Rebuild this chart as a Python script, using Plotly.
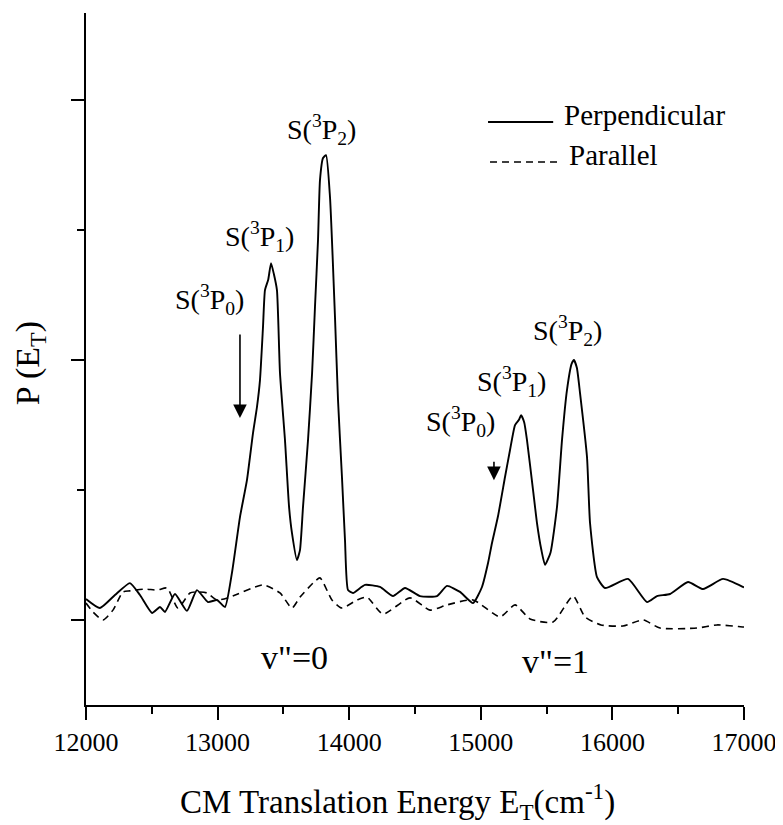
import plotly.graph_objects as go

# ---- data ----
perp_x = [12000, 12106, 12220, 12334, 12410, 12502, 12562, 12600, 12676, 12767,
          12843, 12927, 12995, 13056, 13109, 13170, 13223, 13269, 13299, 13322,
          13345, 13360, 13385, 13406, 13428, 13451, 13474, 13512, 13543, 13565,
          13603, 13626, 13649, 13687, 13718, 13740, 13763, 13778, 13801, 13824,
          13854, 13892, 13915, 13945, 13968, 13991, 14029, 14120, 14234, 14333,
          14424, 14538, 14667, 14743, 14842, 14941, 15009, 15055, 15085, 15131,
          15184, 15222, 15260, 15290, 15306, 15330, 15351, 15397, 15427, 15460,
          15488, 15530, 15579, 15617, 15655, 15690, 15708, 15730, 15754, 15807,
          15830, 15883, 15944, 16119, 16263, 16339, 16438, 16575, 16689, 16841,
          16993, 17000]
perp_y = [0.081, 0.046, 0.096, 0.142, 0.096, 0.027, 0.050, 0.031, 0.100, 0.035,
          0.115, 0.069, 0.077, 0.050, 0.181, 0.396, 0.538, 0.719, 0.819, 0.923,
          1.127, 1.269, 1.310, 1.373, 1.330, 1.269, 0.950, 0.692, 0.435, 0.335,
          0.231, 0.269, 0.435, 0.692, 0.950, 1.204, 1.462, 1.692, 1.777, 1.788,
          1.627, 1.165, 0.846, 0.550, 0.308, 0.115, 0.104, 0.135, 0.127, 0.092,
          0.123, 0.092, 0.092, 0.131, 0.108, 0.065, 0.127, 0.219, 0.296, 0.400,
          0.550, 0.654, 0.750, 0.770, 0.788, 0.760, 0.692, 0.500, 0.373, 0.270,
          0.212, 0.260, 0.435, 0.692, 0.885, 0.985, 1.000, 0.970, 0.873, 0.627,
          0.373, 0.165, 0.123, 0.158, 0.069, 0.092, 0.100, 0.146, 0.119, 0.158,
          0.127, 0.125]

par_x = [12000, 12053, 12129, 12205, 12281, 12334, 12448, 12540, 12616, 12699,
         12790, 12843, 12919, 12995, 13094, 13345, 13474, 13565, 13626, 13725,
         13778, 13869, 13945, 14059, 14135, 14257, 14462, 14614, 14743, 14941,
         15146, 15260, 15374, 15549, 15701, 15792, 15913, 16080, 16233, 16362,
         16643, 16795, 16993, 17000]
par_y = [0.065, 0.031, 0.000, 0.038, 0.108, 0.112, 0.119, 0.115, 0.123, 0.046,
         0.104, 0.108, 0.104, 0.077, 0.088, 0.135, 0.104, 0.046, 0.088, 0.142,
         0.162, 0.077, 0.046, 0.077, 0.088, 0.023, 0.085, 0.038, 0.058, 0.077,
         0.012, 0.058, 0.004, -0.008, 0.092, 0.012, -0.019, -0.023, 0.000, -0.031,
         -0.031, -0.019, -0.027, -0.027]

x_ticks = [12000, 13000, 14000, 15000, 16000, 17000]

# peak labels: (x, y, text)
label_x = [12942, 13322, 13793, 14842, 15230, 15655]
label_y = [1.231, 1.477, 1.885, 0.762, 0.919, 1.112]
label_t = ["S(<sup>3</sup>P<sub>0</sub>)", "S(<sup>3</sup>P<sub>1</sub>)",
           "S(<sup>3</sup>P<sub>2</sub>)", "S(<sup>3</sup>P<sub>0</sub>)",
           "S(<sup>3</sup>P<sub>1</sub>)", "S(<sup>3</sup>P<sub>2</sub>)"]

# arrows: head position (x, y) and length in px
arrow_x = [13170, 15100]
arrow_y = [0.777, 0.538]
arrow_len = [85, 20]

band_x = [13588, 15564]
band_y = [-0.146, -0.158]
band_t = ['v"=0', 'v"=1']

FONT = "Liberation Serif"

# the page body has an 8px margin: shrink the figure so the plot lands in place
OFF = 8
W, H = 783 - OFF, 825 - OFF

fig = go.Figure()
fig.add_trace(go.Scatter(x=perp_x, y=perp_y, mode="lines",
                         line=dict(color="black", width=1.9, shape="spline",
                                   smoothing=0.5),
                         showlegend=False))
fig.add_trace(go.Scatter(x=par_x, y=par_y, mode="lines",
                         line=dict(color="black", width=1.6, dash="7px,5px",
                                   shape="spline", smoothing=0.6),
                         showlegend=False))

for x, y, t in zip(label_x, label_y, label_t):
    fig.add_annotation(x=x, y=y, text=t, showarrow=False,
                       xanchor="center", yanchor="middle",
                       font=dict(family=FONT, size=28, color="black"))

for x, y, l in zip(arrow_x, arrow_y, arrow_len):
    fig.add_annotation(x=x, y=y, ax=0, ay=-l, text="", showarrow=True,
                       arrowhead=2, arrowsize=1.7, arrowwidth=1.6,
                       arrowcolor="black")

for x, y, t in zip(band_x, band_y, band_t):
    fig.add_annotation(x=x, y=y, text=t, showarrow=False,
                       xanchor="center", yanchor="middle",
                       font=dict(family=FONT, size=34, color="black"))

# legend drawn manually
fig.add_shape(type="line", xref="paper", yref="paper", x0=0.611, x1=0.710,
              y0=0.8425, y1=0.8425, line=dict(color="black", width=1.9))
fig.add_shape(type="line", xref="paper", yref="paper", x0=0.614, x1=0.717,
              y0=0.7847, y1=0.7847,
              line=dict(color="black", width=1.6, dash="7px,5px"))
fig.add_annotation(xref="paper", yref="paper", x=0.7234, y=0.8526,
                   xanchor="left", yanchor="middle", text="Perpendicular",
                   showarrow=False,
                   font=dict(family=FONT, size=29, color="black"))
fig.add_annotation(xref="paper", yref="paper", x=0.731, y=0.7948,
                   xanchor="left", yanchor="middle", text="Parallel",
                   showarrow=False,
                   font=dict(family=FONT, size=29, color="black"))

# axis titles
fig.add_annotation(xref="paper", yref="paper", x=0.473, y=-0.139,
                   xanchor="center", yanchor="middle",
                   text="CM Translation Energy E<sub>T</sub>(cm<sup>-1</sup>)",
                   showarrow=False,
                   font=dict(family=FONT, size=33, color="black"))
fig.add_annotation(xref="paper", yref="paper", x=-0.0851, y=0.494,
                   xanchor="center", yanchor="middle",
                   text="P (E<sub>T</sub>)", textangle=-90, showarrow=False,
                   font=dict(family=FONT, size=34, color="black"))

fig.update_layout(
    width=W, height=H,
    margin=dict(l=86 - OFF, r=39, t=13 - OFF, b=120),
    paper_bgcolor="white", plot_bgcolor="white",
    font=dict(family=FONT, color="black"),
)
fig.update_xaxes(range=[12000, 17000], tickvals=x_ticks,
                 ticktext=[str(v) for v in x_ticks],
                 ticks="outside", ticklen=13, tickwidth=2, tickcolor="black",
                 showline=True, linewidth=2, linecolor="black",
                 showgrid=False, zeroline=False,
                 tickfont=dict(family=FONT, size=26, color="black"),
                 minor=dict(dtick=500, tick0=12000, ticks="outside", ticklen=7,
                            tickwidth=2, tickcolor="black", showgrid=False))
fig.update_yaxes(range=[-0.327, 2.335], tick0=0, dtick=1,
                 ticks="outside", ticklen=13, tickwidth=2, tickcolor="black",
                 showticklabels=False,
                 showline=True, linewidth=2, linecolor="black",
                 showgrid=False, zeroline=False,
                 minor=dict(dtick=0.5, tick0=0, ticks="outside", ticklen=7,
                            tickwidth=2, tickcolor="black", showgrid=False))

fig.write_html("out.html")
